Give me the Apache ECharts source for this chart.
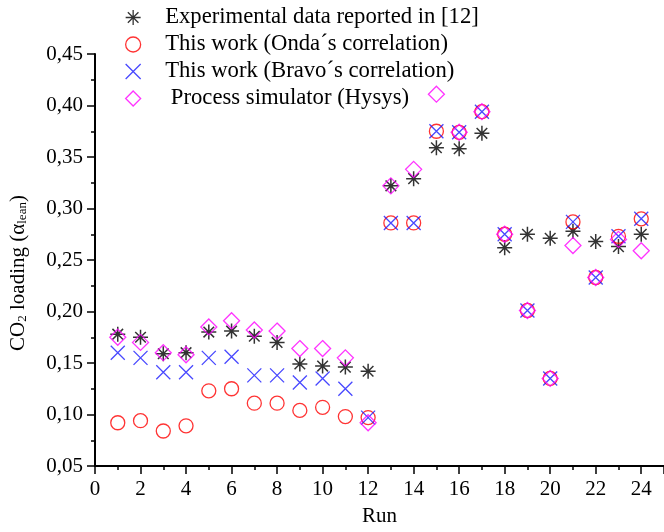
<!DOCTYPE html>
<html>
<head>
<meta charset="utf-8">
<script src="https://cdn.jsdelivr.net/npm/echarts@6/dist/echarts.min.js"></script>
<style>html,body{margin:0;padding:0;background:#fff}#c{width:664px;height:532px}</style>
</head>
<body>
<div id="c"></div>
<script>
const runs = [1,2,3,4,5,6,7,8,9,10,11,12,13,14,15,16,17,18,19,20,21,22,23,24];
const experimental = [0.178,0.175,0.159,0.160,0.180,0.181,0.176,0.170,0.149,0.147,0.146,0.142,0.322,0.329,0.359,0.358,0.373,0.262,0.275,0.271,0.278,0.268,0.263,0.275];
const onda = [0.092,0.094,0.084,0.089,0.123,0.125,0.111,0.111,0.104,0.107,0.098,0.097,0.286,0.286,0.375,0.374,0.394,0.275,0.201,0.135,0.287,0.233,0.273,0.290];
const bravo = [0.160,0.155,0.141,0.141,0.155,0.156,0.138,0.138,0.131,0.135,0.125,0.097,0.286,0.286,0.375,0.374,0.394,0.275,0.201,0.135,0.287,0.233,0.273,0.290];
const hysys = [0.175,0.170,0.160,0.158,0.185,0.191,0.182,0.181,0.164,0.164,0.155,0.092,0.322,0.338,0.411,0.374,0.394,0.275,0.201,0.135,0.264,0.233,0.270,0.259];
const seriesNames = ['Experimental data reported in [12]','This work (Onda\u00b4s correlation)','This work (Bravo\u00b4s correlation)',' Process simulator (Hysys)'];

const FONT = 'Liberation Serif';
const pair = arr => runs.map((r,i)=>[r,arr[i]]);
const ASTER = 'path://M0,-10L0,10M-10,0L10,0M-7.07,-7.07L7.07,7.07M-7.07,7.07L7.07,-7.07';
const XSYM = 'path://M-10,-10L10,10M-10,10L10,-10';
const DIAM = 'path://M0,-10L10,0L0,10L-10,0Z';

const chart = echarts.init(document.getElementById('c'));
chart.setOption({
  animation:false,
  backgroundColor:'#fff',
  grid:{left:94, right:0, top:54, bottom:60},
  legend:{
    orient:'vertical', left:120, top:1, itemGap:4,
    itemWidth:54, itemHeight:15,
    textStyle:{fontFamily:FONT, fontSize:22.7, color:'#000', lineHeight:23},
    itemStyle:{borderWidth:1.3},
    data:seriesNames
  },
  xAxis:{
    type:'value', min:0, max:25, interval:2,
    name:'Run', nameLocation:'middle', nameGap:40,
    nameTextStyle:{fontFamily:FONT, fontSize:21, color:'#000'},
    axisLine:{show:true, onZero:false, lineStyle:{color:'#000', width:2}},
    axisTick:{show:true, inside:false, length:8, lineStyle:{color:'#000', width:1.5}},
    minorTick:{show:true, splitNumber:2, length:4, lineStyle:{color:'#000', width:1.5}},
    axisLabel:{fontFamily:FONT, fontSize:21, color:'#000', margin:13, showMaxLabel:false},
    splitLine:{show:false}
  },
  yAxis:{
    type:'value', min:0.05, max:0.45, interval:0.05,
    name:'{a|CO}{s|2}{a| loading (\u03b1}{s|lean}{a|)}',
    nameLocation:'middle', nameGap:66, nameRotate:90,
    nameTextStyle:{
      color:'#000', padding:[0,26,0,0],
      rich:{
        a:{fontFamily:FONT, fontSize:21, color:'#000', verticalAlign:'bottom', lineHeight:24},
        s:{fontFamily:FONT, fontSize:13, color:'#000', verticalAlign:'bottom', lineHeight:24, padding:[6,0,0,0]}
      }
    },
    axisLine:{show:true, onZero:false, lineStyle:{color:'#000', width:2}},
    axisTick:{show:true, inside:false, length:8, lineStyle:{color:'#000', width:1.5}},
    minorTick:{show:true, splitNumber:2, length:4, lineStyle:{color:'#000', width:1.5}},
    axisLabel:{fontFamily:FONT, fontSize:21, color:'#000', margin:12,
      formatter:v=>v.toFixed(2).replace('.',',')},
    splitLine:{show:false}
  },
  series:[
    {name:seriesNames[0], type:'scatter', data:pair(experimental), symbol:ASTER, symbolSize:15, symbolKeepAspect:true,
     itemStyle:{color:'transparent', borderColor:'#000', borderWidth:1.5}},
    {name:seriesNames[1], type:'scatter', data:pair(onda), symbol:'circle', symbolSize:14, symbolKeepAspect:true,
     itemStyle:{color:'transparent', borderColor:'#ff0000', borderWidth:1.3}},
    {name:seriesNames[2], type:'scatter', data:pair(bravo), symbol:XSYM, symbolSize:14, symbolKeepAspect:true,
     itemStyle:{color:'transparent', borderColor:'#1a1aff', borderWidth:1.3}},
    {name:seriesNames[3], type:'scatter', data:pair(hysys), symbol:DIAM, symbolSize:16, symbolKeepAspect:true,
     itemStyle:{color:'transparent', borderColor:'#ff00ff', borderWidth:1.3}}
  ]
});
</script>
</body>
</html>
